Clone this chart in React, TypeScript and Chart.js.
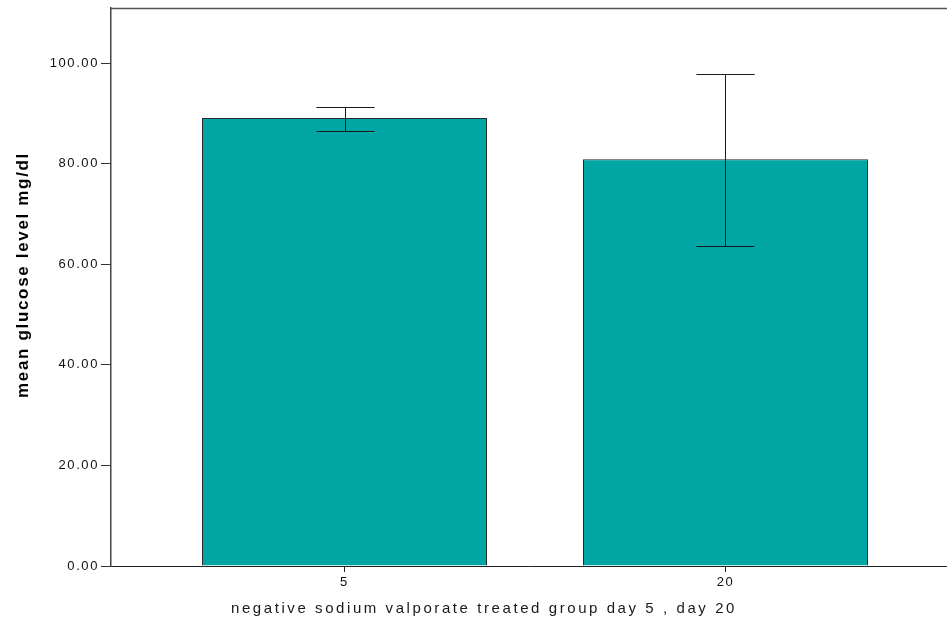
import React, { useEffect, useRef } from "react";
import { Chart, registerables } from "chart.js";

Chart.register(...registerables);

const categories = ["5", "20"];
const means = [89.1, 80.9];
const upperErr = [91.4, 97.8];
const lowerErr = [86.6, 63.7];
const yMin = 0;
const yMax = 111;
const yStep = 20;
const yTitle = "mean glucose level mg/dl";
const xTitle = "negative sodium valporate treated group day 5 , day 20";

const FONT = "'Liberation Sans', Arial, sans-serif";
const BAR_COLOR = "#00a6a4";

function fitText(ctx: CanvasRenderingContext2D, text: string, target: number) {
  (ctx as any).letterSpacing = "0px";
  const w = ctx.measureText(text).width;
  const ls = Math.max(0, (target - w) / text.length);
  (ctx as any).letterSpacing = ls + "px";
}

const errorBarPlugin = {
  id: "errorBars",
  afterDatasetsDraw(chart: any) {
    const ctx = chart.ctx as CanvasRenderingContext2D;
    const meta = chart.getDatasetMeta(0);
    const ys = chart.scales.y;
    ctx.save();
    ctx.strokeStyle = "#1a1a1a";
    ctx.lineWidth = 1;
    meta.data.forEach((bar: any, i: number) => {
      const x = Math.round(bar.x) + 0.5;
      const half = (bar.width * 0.204) / 2;
      const yu = Math.round(ys.getPixelForValue(upperErr[i])) + 0.5;
      const yl = Math.round(ys.getPixelForValue(lowerErr[i])) + 0.5;
      ctx.beginPath();
      ctx.moveTo(x, yu);
      ctx.lineTo(x, yl);
      ctx.moveTo(x - half, yu);
      ctx.lineTo(x + half, yu);
      ctx.moveTo(x - half, yl);
      ctx.lineTo(x + half, yl);
      ctx.stroke();
    });
    ctx.restore();
  },
};

const framePlugin = {
  id: "frame",
  beforeDraw(chart: any) {
    (chart.ctx as any).letterSpacing = "1.6px";
  },
  afterDraw(chart: any) {
    const ctx = chart.ctx as CanvasRenderingContext2D;
    const a = chart.chartArea;
    ctx.save();
    ctx.strokeStyle = "#555";
    ctx.lineWidth = 1.5;
    ctx.beginPath();
    ctx.moveTo(a.left, a.top + 0.5);
    ctx.lineTo(a.right, a.top + 0.5);
    ctx.stroke();

    ctx.fillStyle = "#000";
    ctx.font = `bold 17px ${FONT}`;
    fitText(ctx, yTitle, 246);
    ctx.translate(23, 275);
    ctx.rotate(-Math.PI / 2);
    ctx.textAlign = "center";
    ctx.textBaseline = "middle";
    ctx.fillText(yTitle, 0, 0);
    ctx.restore();

    ctx.save();
    ctx.fillStyle = "#1a1a1a";
    ctx.font = `15px ${FONT}`;
    fitText(ctx, xTitle, 506);
    ctx.textAlign = "left";
    ctx.textBaseline = "middle";
    ctx.fillText(xTitle, 231, 609);
    ctx.restore();
    (ctx as any).letterSpacing = "1.6px";
  },
};

export default function App() {
  const ref = useRef<HTMLCanvasElement | null>(null);

  useEffect(() => {
    if (!ref.current) return;
    const chart = new Chart(ref.current, {
      type: "bar",
      data: {
        datasets: [
          {
            data: categories.map((_, i) => ({ x: i, y: means[i] })) as any,
            backgroundColor: BAR_COLOR,
            borderColor: "#2a2a2a",
            borderWidth: 1,
            barPercentage: 0.748,
            categoryPercentage: 1,
          },
        ],
      },
      options: {
        responsive: false,
        animation: false,
        layout: { padding: { top: 8, left: 0, right: 0, bottom: 0 } },
        plugins: {
          legend: { display: false },
          tooltip: { enabled: false },
        },
        scales: {
          x: {
            type: "linear",
            offset: false,
            min: -0.6129,
            max: 1.5814,
            afterBuildTicks: (scale: any) => {
              scale.ticks = categories.map((_, i) => ({ value: i }));
            },
            afterFit: (scale: any) => {
              scale.height = 57;
              scale.paddingLeft = 0;
              scale.paddingRight = 0;
            },
            grid: {
              offset: false,
              drawOnChartArea: false,
              drawTicks: true,
              tickLength: 6,
              color: "#222",
            },
            border: { display: true, color: "#222", width: 1 },
            ticks: {
              padding: 3,
              color: "#111",
              font: { family: FONT, size: 13 },
              maxRotation: 0,
              callback: (v: any) => categories[v] ?? "",
            },
          },
          y: {
            min: yMin,
            max: yMax,
            afterFit: (scale: any) => {
              scale.width = 111;
              scale.paddingTop = 0;
              scale.paddingBottom = 0;
            },
            grid: {
              drawOnChartArea: false,
              drawTicks: true,
              tickLength: 10,
              color: "#333",
            },
            border: { display: true, color: "#444", width: 1.5 },
            ticks: {
              stepSize: yStep,
              includeBounds: false,
              padding: 2,
              color: "#111",
              font: { family: FONT, size: 13 },
              callback: (v: any) => Number(v).toFixed(2),
            },
          },
        },
      },
      plugins: [framePlugin, errorBarPlugin],
    });
    return () => chart.destroy();
  }, []);

  return (
    <div style={{ position: "absolute", left: 0, top: 0, width: 947, height: 623, background: "#fff" }}>
      <canvas ref={ref} width={947} height={623} style={{ display: "block" }} />
    </div>
  );
}
